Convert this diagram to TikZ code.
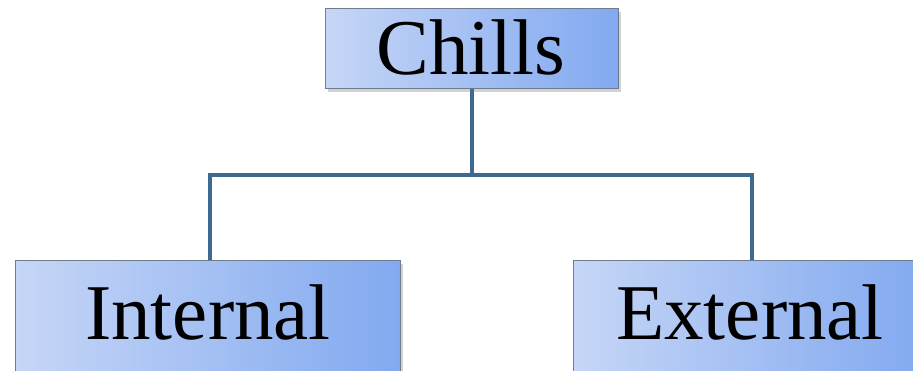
\documentclass[tikz,border=0pt]{standalone}
\usepackage{fontspec}
\setmainfont{Liberation Serif}
\usetikzlibrary{shadows}
\definecolor{lineblue}{HTML}{3F6A90}
\definecolor{boxleft}{HTML}{C6D6F6}
\definecolor{boxmid}{HTML}{B6CBF4}
\definecolor{boxright}{HTML}{82A9F0}
\definecolor{boxedge}{HTML}{6F7C8C}
\tikzset{
  box/.style={draw=boxedge, line width=1.3pt, left color=boxleft, middle color=boxmid, right color=boxright,
    drop shadow={opacity=0.35, shadow xshift=2pt, shadow yshift=-3pt},
    inner sep=0pt},
  lbl/.style={font=\fontsize{79}{81}\selectfont, anchor=base},
  conn/.style={draw=lineblue, line width=4pt}
}
\begin{document}
\begin{tikzpicture}[x=1pt,y=-1pt]
\useasboundingbox (0,0) rectangle (913,371);
\clip (0,0) rectangle (913,371);
\fill[white] (0,0) rectangle (913,371);
\node[box, minimum width=293pt, minimum height=80pt, anchor=north west] (chills) at (325,8) {};
\node[box, minimum width=385pt, minimum height=125pt, anchor=north west] (internal) at (15,260) {};
\node[box, minimum width=350pt, minimum height=125pt, anchor=north west] (external) at (573,260) {};
\node[lbl] (tc) at (471,75) {Chills};
\node[lbl] (ti) at (208,340) {Internal};
\node[lbl] (te) at (750,340) {External};
\coordinate (mid) at (472,175);
\draw[conn] (chills.south -| mid) -- (mid);
\draw[conn] (internal.north -| 210,0) |- (mid) -| (external.north -| 752,0);
\end{tikzpicture}
\end{document}
